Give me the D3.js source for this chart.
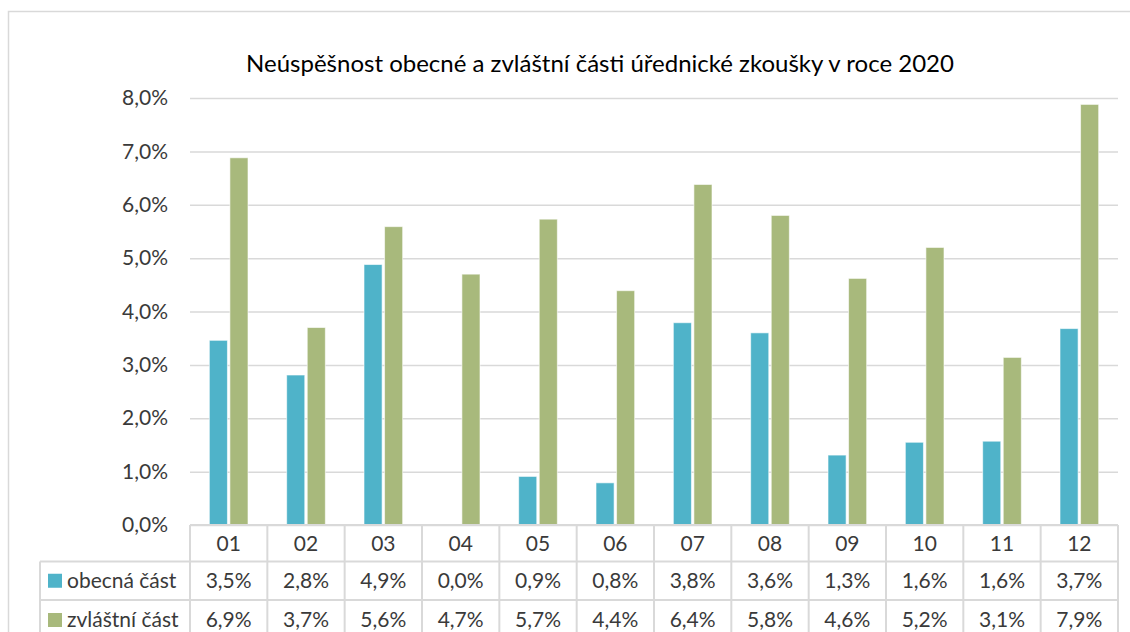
<!DOCTYPE html>
<html>
<head>
<meta charset="utf-8">
<script src="https://cdn.jsdelivr.net/npm/d3@7"></script>
<style>
  body { margin: 0; background: #fff; }
  text { font-family: Lato, "Open Sans", sans-serif; }
</style>
</head>
<body>
<div id="chart"></div>
<script>
// Data
const months = ['01', '02', '03', '04', '05', '06', '07', '08', '09', '10', '11', '12'];
const seriesNames = ['obecná část', 'zvláštní část'];
const obecna = [3.46, 2.81, 4.88, 0.0, 0.91, 0.79, 3.79, 3.60, 1.31, 1.55, 1.57, 3.68];
const zvlastni = [6.88, 3.70, 5.59, 4.70, 5.73, 4.39, 6.38, 5.80, 4.62, 5.20, 3.14, 7.88];
const yTicks = [0, 1, 2, 3, 4, 5, 6, 7, 8];
const colors = ['#4FB3C9', '#A8B97C'];
const title = 'Neúspěšnost obecné a zvláštní části úřednické zkoušky v roce 2020';

const width = 1130;
const height = 632;
const plot = { left: 190, right: 1118, top: 98, bottom: 525 };
const gridColor = '#d9d9d9';
const textColor = '#3a3a3a';
const fontSize = 21;

const locale = d3.formatLocale({ decimal: ',', thousands: ' ', grouping: [3], currency: ['', ' Kč'] });
const fmt = d => locale.format('.1f')(d) + '%';

const svg = d3.select('#chart')
  .append('svg')
  .attr('width', width)
  .attr('height', height);

svg.append('rect')
  .attr('width', width)
  .attr('height', height)
  .attr('fill', '#fff');

// chart area border (runs off the right and bottom)
svg.append('rect')
  .attr('x', 8.5)
  .attr('y', 11.5)
  .attr('width', 1200)
  .attr('height', 700)
  .attr('fill', 'none')
  .attr('stroke', gridColor)
  .attr('stroke-width', 1.5);

// title
svg.append('text')
  .attr('x', 600)
  .attr('y', 72)
  .attr('text-anchor', 'middle')
  .attr('font-size', 24)
  .attr('fill', '#000')
  .text(title);

const x0 = d3.scaleBand()
  .domain(months)
  .range([plot.left, plot.right]);

const x1 = d3.scaleBand()
  .domain(seriesNames)
  .range([x0.bandwidth() * 0.25, x0.bandwidth() * 0.75])
  .paddingInner(0.12);

const y = d3.scaleLinear()
  .domain([0, 8])
  .range([plot.bottom, plot.top]);

// gridlines
const yAxis = d3.axisLeft(y)
  .tickValues(yTicks)
  .tickSize(-(plot.right - plot.left))
  .tickPadding(22)
  .tickFormat(fmt);

const yg = svg.append('g')
  .attr('transform', `translate(${plot.left},0)`)
  .call(yAxis);
yg.select('.domain').remove();
yg.selectAll('.tick line')
  .attr('stroke', gridColor)
  .attr('stroke-width', 1.5);
yg.selectAll('.tick text')
  .attr('font-size', fontSize)
  .attr('fill', textColor)
  .attr('font-family', 'Lato, sans-serif');

// bars
const rows = months.map((m, i) => ({ month: m, values: [obecna[i], zvlastni[i]] }));

const groups = svg.append('g')
  .selectAll('g')
  .data(rows)
  .join('g')
  .attr('transform', d => `translate(${x0(d.month)},0)`);

groups.selectAll('rect')
  .data(d => d.values.map((v, k) => ({ name: seriesNames[k], value: v, k })))
  .join('rect')
  .attr('x', d => x1(d.name))
  .attr('y', d => y(d.value))
  .attr('width', x1.bandwidth())
  .attr('height', d => y(0) - y(d.value))
  .attr('fill', d => colors[d.k])
  .attr('stroke', '#fff')
  .attr('stroke-opacity', 0.6)
  .attr('stroke-width', 1)
  .style('display', d => d.value > 0 ? null : 'none');

// data table
const rowTops = [525, 561.5, 600, 640];
const tableLeft = 40;
const table = svg.append('g');

// horizontal lines
table.append('line')
  .attr('x1', plot.left).attr('x2', plot.right)
  .attr('y1', rowTops[0]).attr('y2', rowTops[0]);
[1, 2].forEach(r => {
  table.append('line')
    .attr('x1', tableLeft).attr('x2', plot.right)
    .attr('y1', rowTops[r]).attr('y2', rowTops[r]);
});
// vertical lines
months.forEach(m => {
  table.append('line')
    .attr('x1', x0(m)).attr('x2', x0(m))
    .attr('y1', rowTops[0]).attr('y2', rowTops[3]);
});
table.append('line')
  .attr('x1', plot.right).attr('x2', plot.right)
  .attr('y1', rowTops[0]).attr('y2', rowTops[3]);
table.append('line')
  .attr('x1', tableLeft).attr('x2', tableLeft)
  .attr('y1', rowTops[1]).attr('y2', rowTops[3]);
table.selectAll('line')
  .attr('stroke', gridColor)
  .attr('stroke-width', 2);

// header row
table.selectAll('text.cat')
  .data(months)
  .join('text')
  .attr('class', 'cat')
  .attr('x', d => x0(d) + x0.bandwidth() / 2)
  .attr('y', (rowTops[0] + rowTops[1]) / 2)
  .attr('dy', '0.35em')
  .attr('text-anchor', 'middle')
  .attr('font-size', fontSize)
  .attr('fill', textColor)
  .text(d => d);

// value rows with legend keys
[obecna, zvlastni].forEach((vals, k) => {
  const cy = (rowTops[k + 1] + rowTops[k + 2]) / 2;
  table.append('rect')
    .attr('x', 48)
    .attr('y', cy - 7)
    .attr('width', 14)
    .attr('height', 14)
    .attr('fill', colors[k]);
  table.append('text')
    .attr('x', 67)
    .attr('y', cy)
    .attr('dy', '0.35em')
    .attr('font-size', fontSize)
    .attr('fill', textColor)
    .text(seriesNames[k]);
  table.append('g')
    .selectAll('text')
    .data(vals)
    .join('text')
    .attr('x', (d, i) => x0(months[i]) + x0.bandwidth() / 2)
    .attr('y', cy)
    .attr('dy', '0.35em')
    .attr('text-anchor', 'middle')
    .attr('font-size', fontSize)
    .attr('fill', textColor)
    .text(d => fmt(d));
});
</script>
</body>
</html>
